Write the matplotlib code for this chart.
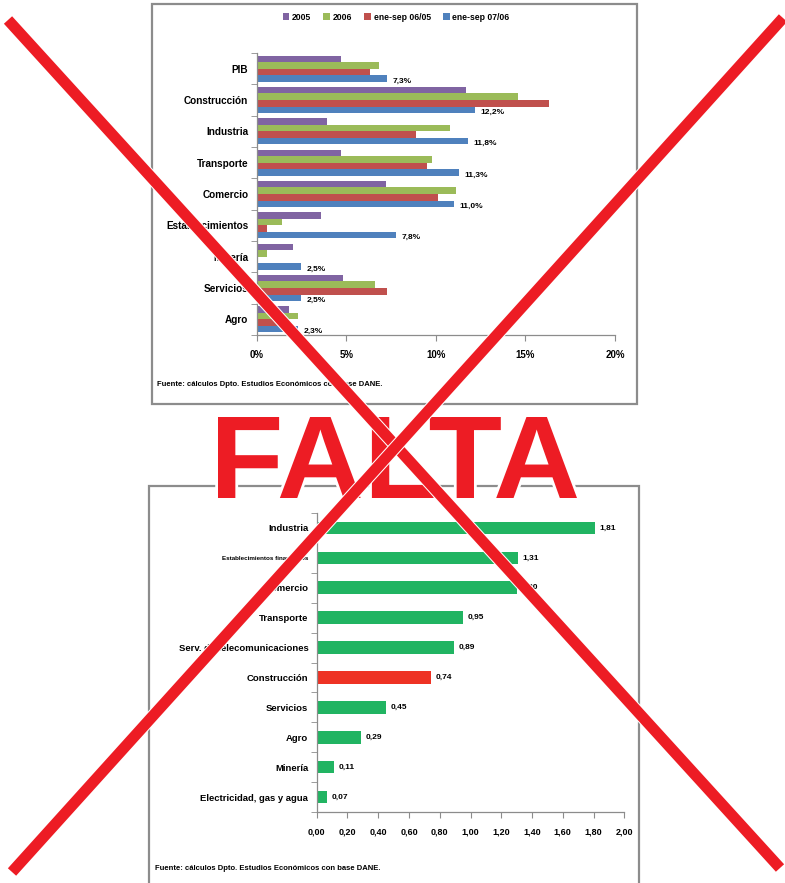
import numpy as np
import matplotlib
matplotlib.use('Agg')
import matplotlib.pyplot as plt
from matplotlib.patches import Rectangle, PathPatch
from matplotlib.textpath import TextPath
from matplotlib.font_manager import FontProperties
from matplotlib.transforms import Affine2D
from matplotlib.lines import Line2D
import matplotlib.patheffects as pe

# --- top chart data (growth, %) ---
sectores = ['PIB', 'Construcción', 'Industria', 'Transporte', 'Comercio',
            'Establecimientos', 'Minería', 'Servicios', 'Agro']
serie_names = ['2005', '2006', 'ene-sep 06/05', 'ene-sep 07/06']
v2005 = [4.7, 11.7, 3.9, 4.7, 7.2, 3.6, 2.0, 4.8, 1.8]
v2006 = [6.8, 14.6, 10.8, 9.8, 11.1, 1.4, 0.6, 6.6, 2.3]
v0605 = [6.3, 16.3, 8.9, 9.5, 10.1, 0.6, 0.0, 7.3, 1.5]
v0706 = [7.3, 12.2, 11.8, 11.3, 11.0, 7.8, 2.5, 2.5, 2.3]

# --- bottom chart data ---
sectores2 = ['Industria', 'Establecimientos financieros', 'Comercio', 'Transporte',
             'Serv. de telecomunicaciones', 'Construcción', 'Servicios', 'Agro',
             'Minería', 'Electricidad, gas y agua']
valores2 = [1.81, 1.31, 1.30, 0.95, 0.89, 0.74, 0.45, 0.29, 0.11, 0.07]

fuente = 'Fuente: cálculos Dpto. Estudios Económicos con base DANE.'

W, H = 785, 883
fig = plt.figure(figsize=(W / 100, H / 100), dpi=100)
plt.rcParams['font.family'] = ['Liberation Sans', 'DejaVu Sans']


def rect(l, t, r, b):
    return [l / W, 1 - b / H, (r - l) / W, (b - t) / H]


def fx(x):
    return x / W


def fy(y):
    return 1 - y / H


grey = '#8c8c8c'

# chart boxes
for l, t, r, b in [(152, 4, 637, 404), (149, 486, 639, 886)]:
    fig.patches.append(Rectangle((fx(l), fy(b)), fx(r - l), (b - t) / H,
                                 transform=fig.transFigure, fill=False,
                                 edgecolor=grey, lw=1.6, zorder=0))


def style_axes(ax, n):
    for s in ['top', 'right']:
        ax.spines[s].set_visible(False)
    for s in ['left', 'bottom']:
        ax.spines[s].set_color(grey)
        ax.spines[s].set_linewidth(0.9)
    ax.set_ylim(n - 0.5, -0.5)
    ax.set_yticks(np.arange(n))
    ax.set_yticks(np.arange(n + 1) - 0.5, minor=True)
    ax.tick_params(axis='y', which='major', length=0, pad=6)
    ax.tick_params(axis='y', which='minor', length=4, color=grey)
    ax.tick_params(axis='x', length=4, color=grey, direction='out', pad=7)


# ---------------- top chart ----------------
ax1 = fig.add_axes(rect(256.7, 53, 615, 335))
colors = ['#8064A2', '#9BBB59', '#C0504D', '#4F81BD']
series = [v2005, v2006, v0605, v0706]
y = np.arange(len(sectores))
h = 0.21
for j, (vals, c, name) in enumerate(zip(series, colors, serie_names)):
    ax1.barh(y + (j - 1.5) * h, vals, height=h, color=c, label=name)
for i, v in enumerate(v0706):
    ax1.text(v + 0.3, i + 1.5 * h + 0.08, f'{v:.1f}%'.replace('.', ','),
             fontsize=6, fontweight='bold', va='center')
style_axes(ax1, len(sectores))
ax1.set_yticklabels(sectores, fontsize=7.2, fontweight='bold')
ax1.set_xlim(0, 20)
ax1.set_xticks(np.arange(0, 21, 5))
ax1.set_xticklabels([f'{t}%' for t in range(0, 21, 5)], fontsize=7, fontweight='bold')
ax1.legend(loc='center', bbox_to_anchor=(fx(396), fy(17)), bbox_transform=fig.transFigure,
           ncol=4, frameon=False, prop={'size': 6.2, 'weight': 'bold'},
           handlelength=0.8, handleheight=0.8, handletextpad=0.3, columnspacing=1.4)
fig.text(fx(157), fy(384), fuente, fontsize=5.5, fontweight='bold', va='center')

# ---------------- bottom chart ----------------
ax2 = fig.add_axes(rect(316.7, 513, 624.3, 812))
y2 = np.arange(len(sectores2))
cols2 = ['#EE3224' if s == 'Construcción' else '#21B462' for s in sectores2]
ax2.barh(y2, valores2, height=0.42, color=cols2)
for i, v in enumerate(valores2):
    ax2.text(v + 0.03, i, f'{v:.2f}'.replace('.', ','), fontsize=6,
             fontweight='bold', va='center')
style_axes(ax2, len(sectores2))
ax2.set_yticklabels(sectores2, fontsize=6.8, fontweight='bold')
ax2.get_yticklabels()[1].set_fontsize(4.5)
ax2.set_xlim(0, 2)
ticks2 = np.round(np.arange(0, 2.01, 0.2), 2)
ax2.set_xticks(ticks2)
ax2.set_xticklabels([f'{t:.2f}'.replace('.', ',') for t in ticks2], fontsize=6.5,
                    fontweight='bold')
fig.text(fx(155), fy(868), fuente, fontsize=5.5, fontweight='bold', va='center')

# ---------------- FALTA stamp ----------------
tp = TextPath((0, 0), 'FALTA', size=100,
              prop=FontProperties(family='Liberation Sans', weight='bold'))
ext = tp.get_extents()
l, t, r, b = 218, 417, 577, 498
tr = (Affine2D().translate(-ext.x0, -ext.y0)
      .scale(fx(r - l) / ext.width, ((b - t) / H) / ext.height)
      .translate(fx(l), fy(b)))
stamp = PathPatch(tr.transform_path(tp), transform=fig.transFigure,
                  facecolor='#ED1C24', edgecolor='none', zorder=10)
stamp.set_path_effects([pe.Stroke(linewidth=4, foreground='white'), pe.Normal()])
fig.patches.append(stamp)

# ---------------- red cross ----------------
for (x0, y0), (x1, y1) in [((8, 20), (780, 868)), ((783, 18), (12, 872))]:
    ln = Line2D([fx(x0), fx(x1)], [fy(y0), fy(y1)], transform=fig.transFigure,
                color='#ED1C24', lw=8, solid_capstyle='butt', zorder=11)
    ln.set_path_effects([pe.Stroke(linewidth=9.5, foreground='white'), pe.Normal()])
    fig.lines.append(ln)

fig.savefig('out.png', dpi=100, facecolor='white')
